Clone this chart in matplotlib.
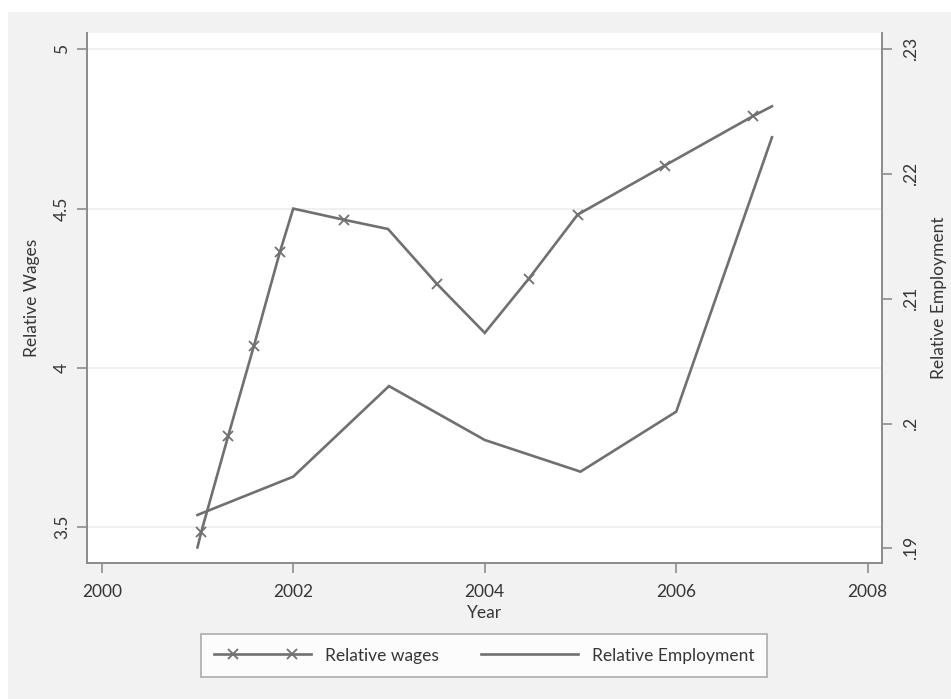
import matplotlib
matplotlib.use("Agg")
import matplotlib.pyplot as plt
from matplotlib.patches import Rectangle
from matplotlib.lines import Line2D
from matplotlib.legend_handler import HandlerLine2D

plt.rcParams['font.family'] = ['Lato', 'DejaVu Sans']

# Relative wages series (line vertices; markers drawn at selected observations)
wage_years = [2001.0, 2001.04, 2001.32, 2001.59, 2001.86, 2002.0, 2002.53, 2002.99,
              2003.50, 2004.0, 2004.46, 2004.97, 2005.88, 2006.80, 2007.0]
wages = [3.437, 3.486, 3.786, 4.070, 4.363, 4.500, 4.465, 4.436,
         4.264, 4.110, 4.280, 4.481, 4.635, 4.790, 4.821]
wage_marked = [1, 2, 3, 4, 6, 8, 10, 11, 12, 13]

# Relative employment series
emp_years = [2001, 2002, 2003, 2004, 2005, 2006, 2007]
employment = [0.19267, 0.19574, 0.2030, 0.19868, 0.19614, 0.20095, 0.22294]

x_ticks = [2000, 2002, 2004, 2006, 2008]
wage_ticks = [3.5, 4.0, 4.5, 5.0]
wage_tick_labels = ["3.5", "4", "4.5", "5"]
emp_ticks = [0.19, 0.20, 0.21, 0.22, 0.23]
emp_tick_labels = [".19", ".2", ".21", ".22", ".23"]

W, H = 951, 699
FS = 12.5
fig = plt.figure(figsize=(W / 100, H / 100), dpi=100, facecolor='white')
fig.patches.append(Rectangle((8 / W, 0), 1 - 8 / W, 1 - 12 / H, transform=fig.transFigure,
                             facecolor='#f2f2f2', edgecolor='none', zorder=-10))

ax = fig.add_axes([86.7 / W, 1 - 563 / H, (881.7 - 86.7) / W, (563 - 33) / H])
ax.set_facecolor('white')
ax2 = ax.twinx()

line_col = '#707070'
text_col = '#363636'
spine_col = '#8c8c8c'

wline, = ax.plot(wage_years, wages, color=line_col, lw=1.9, marker='x', markersize=7,
                 markeredgewidth=1.3, markevery=wage_marked, label='Relative wages',
                 solid_joinstyle='miter')
eline, = ax2.plot(emp_years, employment, color=line_col, lw=1.9, label='Relative Employment',
                  solid_joinstyle='miter')

ax.set_xlim(1999.843, 2008.146)
ax.set_ylim(3.388, 5.051)
ax2.set_ylim(0.18882, 0.2313)

ax.set_xticks(x_ticks)
ax.set_xticklabels([str(t) for t in x_ticks])
ax.set_yticks(wage_ticks)
ax.set_yticklabels(wage_tick_labels, rotation=90, va='center')
ax2.set_yticks(emp_ticks)
ax2.set_yticklabels(emp_tick_labels, rotation=90, va='center')

for a in (ax, ax2):
    a.spines['top'].set_visible(False)
    for s in a.spines.values():
        s.set_color(spine_col)
        s.set_linewidth(1.4)
    a.tick_params(colors=spine_col, labelcolor=text_col, length=7, width=1.2,
                  labelsize=FS, direction='out')
ax.spines['right'].set_visible(False)
ax2.spines['left'].set_visible(False)
ax2.spines['bottom'].set_visible(False)
ax.tick_params(axis='y', pad=5)
ax2.tick_params(axis='y', pad=8)
ax.tick_params(axis='x', pad=8)

ax.grid(axis='y', color='#eeeeee', lw=1.2)
ax.set_axisbelow(True)

ax.set_xlabel('Year', color=text_col, fontsize=FS, labelpad=4)
ax.set_ylabel('Relative Wages', color=text_col, fontsize=FS, labelpad=10)
ax2.set_ylabel('Relative Employment', color=text_col, fontsize=FS, labelpad=9)


class LineWithMarks(HandlerLine2D):
    """Legend key: full-length line with two markers set in from the ends."""
    def create_artists(self, legend, orig_handle, xdescent, ydescent, width, height,
                       fontsize, trans):
        y = height / 2 - ydescent
        x0, x1 = -xdescent, -xdescent + width
        ln = Line2D([x0, x1], [y, y], color=orig_handle.get_color(),
                    lw=orig_handle.get_linewidth())
        arts = [ln]
        if orig_handle.get_marker() not in (None, 'None', ''):
            inset = 0.2 * width
            mk = Line2D([x0 + inset, x1 - inset], [y, y], linestyle='None',
                        marker=orig_handle.get_marker(), color=orig_handle.get_color(),
                        markersize=orig_handle.get_markersize(),
                        markeredgewidth=orig_handle.get_markeredgewidth())
            arts.append(mk)
        for a in arts:
            a.set_transform(trans)
        return arts


leg = fig.legend([wline, eline], ['Relative wages', 'Relative Employment'],
                 loc='center', bbox_to_anchor=(484 / W, 1 - 655.5 / H), ncol=2,
                 fontsize=FS, handlelength=5.6, handletextpad=0.8, columnspacing=2.4,
                 borderpad=0.75, frameon=True, fancybox=False,
                 handler_map={Line2D: LineWithMarks()})
leg.get_frame().set_edgecolor('#9a9a9a')
leg.get_frame().set_linewidth(1.2)
leg.get_frame().set_facecolor('white')
for t in leg.get_texts():
    t.set_color(text_col)

fig.savefig('out.png', dpi=100, facecolor=fig.get_facecolor())
